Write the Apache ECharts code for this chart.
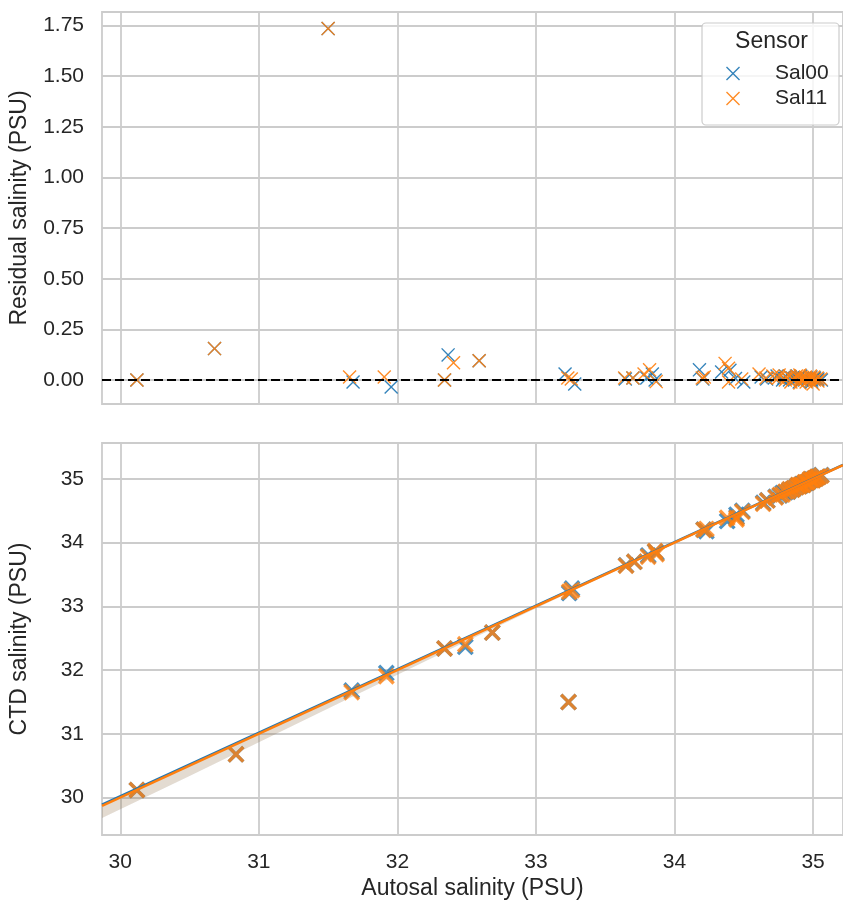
<!DOCTYPE html>
<html>
<head>
<meta charset="utf-8">
<script src="https://cdn.jsdelivr.net/npm/echarts@6/dist/echarts.min.js"></script>
<style>html,body{margin:0;padding:0;background:#fff}#c{width:843px;height:902px}</style>
</head>
<body>
<div id="c"></div>
<script>
// ---- data ----
const autosal = [30.12, 30.835, 31.67, 31.92, 32.34, 32.49, 32.685, 33.235, 33.24, 33.26,
  33.65, 33.71, 33.81, 33.87, 33.86, 34.23, 34.21, 34.38, 34.447, 34.448,
  34.49, 34.64, 34.67, 34.73, 34.76, 34.78, 34.80, 34.82, 34.83, 34.85,
  34.86, 34.88, 34.89, 34.90, 34.91, 34.92, 34.93, 34.94, 34.95, 34.96,
  34.97, 34.98, 34.99, 35.00, 35.01, 35.02, 35.03, 35.04, 35.06];
const sal00Ctd = [30.12, 30.68, 31.68, 31.955, 32.34, 32.366, 32.59, 31.50, 33.21, 33.28,
  33.645, 33.70, 33.80, 33.84, 33.86, 34.18, 34.205, 34.34, 34.44, 34.40,
  34.50, 34.625, 34.665, 34.72, 34.74, 34.78, 34.79, 34.80, 34.83, 34.835,
  34.85, 34.875, 34.90, 34.89, 34.895, 34.92, 34.91, 34.94, 34.94, 34.95,
  34.965, 34.99, 34.99, 34.985, 35.005, 35.01, 35.03, 35.035, 35.06];
const sal11Ctd = [30.12, 30.68, 31.655, 31.905, 32.34, 32.405, 32.59, 31.50, 33.23, 33.255,
  33.64, 33.70, 33.78, 33.82, 33.868, 34.215, 34.20, 34.39, 34.365, 34.39,
  34.485, 34.61, 34.66, 34.71, 34.75, 34.755, 34.80, 34.805, 34.84, 34.83,
  34.855, 34.87, 34.905, 34.88, 34.91, 34.91, 34.905, 34.95, 34.945, 34.945,
  34.97, 35.00, 34.98, 34.98, 35.01, 35.005, 35.035, 35.03, 35.055];
const sal00Resid = [0, 0.155, -0.01, -0.035, 0, 0.124, 0.095, 1.735, 0.03, -0.02,
  0.005, 0.01, 0.01, 0.03, 0, 0.05, 0.005, 0.04, 0.007, 0.048,
  -0.01, 0.015, 0.005, 0.01, 0.02, 0, 0.01, 0.02, 0, 0.015,
  0.01, 0.005, -0.01, 0.01, 0.015, 0, 0.02, 0, 0.01, 0.01,
  0.005, -0.01, 0, 0.015, 0.005, 0.01, 0, 0.005, 0];
const sal11Resid = [0, 0.155, 0.015, 0.015, 0, 0.085, 0.095, 1.735, 0.01, 0.005,
  0.01, 0.01, 0.03, 0.05, -0.008, 0.015, 0.01, -0.01, 0.082, 0.058,
  0.005, 0.03, 0.01, 0.02, 0.01, 0.025, 0, 0.015, -0.01, 0.02,
  0.005, 0.01, -0.015, 0.02, 0, 0.01, 0.025, -0.01, 0.005, 0.015,
  0, -0.02, 0.01, 0.02, 0, 0.015, -0.005, 0.01, 0.005];
// regression fits and confidence bands
const fitX = [29.868, 35.216];
const sal00Fit = [29.89, 35.22];
const sal11Fit = [29.87, 35.215];
const ciX = [29.868, 30.5, 31, 31.5, 32, 32.5, 33, 33.5, 34, 34.5, 35, 35.216];
const ciLower = [29.68, 30.34, 30.87, 31.40, 31.93, 32.455, 32.97, 33.48, 33.985, 34.488, 34.988, 35.20];
const ciUpper = [29.895, 30.52, 31.015, 31.515, 32.01, 32.51, 33.005, 33.505, 34.005, 34.507, 35.008, 35.228];
// tick labels
const residTicks = [0, 0.25, 0.5, 0.75, 1.0, 1.25, 1.5, 1.75];
const ctdTicks = [30, 31, 32, 33, 34, 35];
const xTicks = [30, 31, 32, 33, 34, 35];
const sensors = ['Sal00', 'Sal11'];

// ---- styling ----
const BLUE = '#1f77b4', ORANGE = '#ff7f0e', TXT = '#262626', GRID = '#cccccc';
const FONT = '"Liberation Sans", Arial, Helvetica, sans-serif';
const THIN_X = 'path://M0,7L7,0L50,43L93,0L100,7L57,50L100,93L93,100L50,57L7,100L0,93L43,50Z';
const THICK_X = 'path://M0,14L14,0L50,36L86,0L100,14L64,50L100,86L86,100L50,64L14,100L0,86L36,50Z';

const chart = echarts.init(document.getElementById('c'), null, {renderer: 'canvas'});

function xAxisCfg(gi, labels) {
  return {
    type: 'value', gridIndex: gi, min: 29.868, max: 35.216,
    axisLine: {show: false},
    axisTick: {show: false, customValues: xTicks},
    axisLabel: {show: labels, customValues: xTicks, fontSize: 21, color: TXT, fontFamily: FONT, margin: 17},
    splitLine: {show: true, lineStyle: {color: GRID, width: 1.8}},
    name: labels ? 'Autosal salinity (PSU)' : '',
    nameLocation: 'middle', nameGap: 42,
    nameTextStyle: {fontSize: 23, color: TXT, fontFamily: FONT}
  };
}
function yAxisCfg(gi, min, max, ticks, name, fmt) {
  return {
    type: 'value', gridIndex: gi, min: min, max: max,
    axisLine: {show: false},
    axisTick: {show: false, customValues: ticks},
    axisLabel: {customValues: ticks, fontSize: 21, color: TXT, fontFamily: FONT, margin: 18, formatter: fmt},
    splitLine: {show: true, lineStyle: {color: GRID, width: 1.8}},
    name: name, nameLocation: 'middle', nameGap: 71,
    nameTextStyle: {fontSize: 23, color: TXT, fontFamily: FONT}
  };
}
function band(color) {
  return {
    type: 'custom', xAxisIndex: 1, yAxisIndex: 1, silent: true,
    data: ciX.map((x, i) => [x, ciLower[i], ciUpper[i]]),
    encode: {x: 0, y: [1, 2]},
    clip: true,
    renderItem: function (params, api) {
      if (params.dataIndex !== 0) return null;
      const pts = [];
      for (let i = 0; i < ciX.length; i++) pts.push(api.coord([ciX[i], ciUpper[i]]));
      for (let i = ciX.length - 1; i >= 0; i--) pts.push(api.coord([ciX[i], ciLower[i]]));
      return {type: 'polygon', shape: {points: pts}, style: {fill: color}};
    }
  };
}

const option = {
  animation: false,
  backgroundColor: '#ffffff',
  textStyle: {fontFamily: FONT},
  grid: [
    {left: 102, top: 12, right: -1, height: 392, show: true, borderColor: GRID, borderWidth: 1.8, backgroundColor: 'transparent'},
    {left: 102, top: 443, right: -1, height: 392, show: true, borderColor: GRID, borderWidth: 1.8, backgroundColor: 'transparent'}
  ],
  xAxis: [xAxisCfg(0, false), xAxisCfg(1, true)],
  yAxis: [
    yAxisCfg(0, -0.1185, 1.817, residTicks, 'Residual salinity (PSU)', v => v.toFixed(2)),
    yAxisCfg(1, 29.414, 35.564, ctdTicks, 'CTD salinity (PSU)', v => String(v))
  ],
  legend: {
    data: [
      {name: sensors[0], icon: THIN_X, itemStyle: {color: BLUE}},
      {name: sensors[1], icon: THIN_X, itemStyle: {color: ORANGE}}
    ],
    orient: 'vertical', left: 721, top: 58, itemWidth: 14, itemHeight: 14, itemGap: 4,
    selectedMode: false, z: 20,
    textStyle: {fontSize: 21, color: TXT, fontFamily: FONT, padding: [0, 0, 0, 30]}
  },
  graphic: [
    {type: 'rect', z: 15, shape: {x: 702, y: 23, width: 137, height: 102, r: 4},
     style: {fill: 'rgba(255,255,255,0.8)', stroke: '#cccccc', lineWidth: 1.2}},
    {type: 'text', z: 16, x: 771.5, y: 42,
     style: {text: 'Sensor', fontSize: 23, fill: TXT, fontFamily: FONT, align: 'center', verticalAlign: 'middle'}}
  ],
  series: [
    {name: sensors[0], type: 'scatter', xAxisIndex: 0, yAxisIndex: 0, symbol: THIN_X, symbolSize: 14,
     itemStyle: {color: BLUE, opacity: 0.9},
     data: sal00Ctd.map((c, i) => [c, sal00Resid[i]])},
    {name: sensors[1], type: 'scatter', xAxisIndex: 0, yAxisIndex: 0, symbol: THIN_X, symbolSize: 14,
     itemStyle: {color: ORANGE, opacity: 0.9},
     data: sal11Ctd.map((c, i) => [c, sal11Resid[i]]),
     markLine: {silent: true, symbol: ['none', 'none'], label: {show: false},
       lineStyle: {color: '#000000', width: 2, type: [9, 4]}, data: [{yAxis: 0}]}},
    band('rgba(31,119,180,0.15)'),
    {name: sensors[0], type: 'scatter', xAxisIndex: 1, yAxisIndex: 1, symbol: THICK_X, symbolSize: 17,
     itemStyle: {color: BLUE, opacity: 0.8},
     data: autosal.map((a, i) => [a, sal00Ctd[i]])},
    {name: sensors[0], type: 'line', xAxisIndex: 1, yAxisIndex: 1, showSymbol: false, symbol: 'none',
     lineStyle: {color: BLUE, width: 2.5}, itemStyle: {color: BLUE},
     data: fitX.map((x, i) => [x, sal00Fit[i]])},
    band('rgba(255,127,14,0.15)'),
    {name: sensors[1], type: 'scatter', xAxisIndex: 1, yAxisIndex: 1, symbol: THICK_X, symbolSize: 17,
     itemStyle: {color: ORANGE, opacity: 0.8},
     data: autosal.map((a, i) => [a, sal11Ctd[i]])},
    {name: sensors[1], type: 'line', xAxisIndex: 1, yAxisIndex: 1, showSymbol: false, symbol: 'none',
     lineStyle: {color: ORANGE, width: 2.5}, itemStyle: {color: ORANGE},
     data: fitX.map((x, i) => [x, sal11Fit[i]])}
  ]
};
chart.setOption(option);
</script>
</body>
</html>
